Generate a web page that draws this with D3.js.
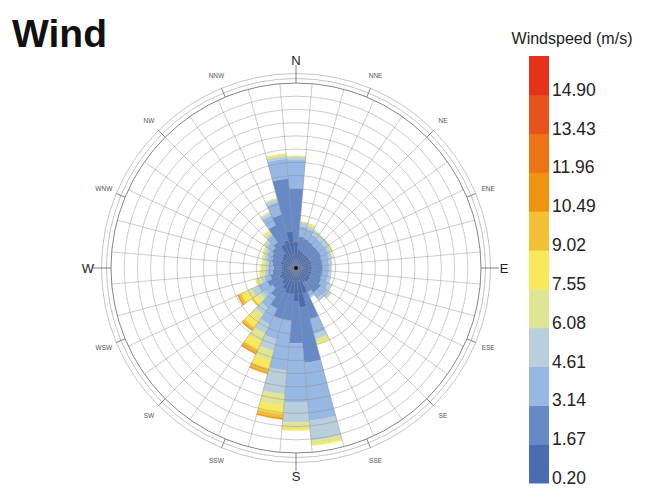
<!DOCTYPE html>
<html><head><meta charset="utf-8">
<script src="https://cdn.jsdelivr.net/npm/d3@7/dist/d3.min.js"></script>
<style>body{margin:0;background:#fff}svg{display:block}</style>
</head><body><svg id="c" width="656" height="495"></svg>
<script>
// ---- data ----
const directions = [0,10,20,30,40,50,60,70,80,90,100,110,120,130,140,150,160,170,180,190,200,210,220,230,240,250,260,270,280,290,300,310,320,330,340,350];
const compassLabels = ["N","NNE","NE","ENE","E","ESE","SE","SSE","S","SSW","SW","WSW","W","WNW","NW","NNW"];
const speedBreaks = [0.20,1.67,3.14,4.61,6.08,7.55,9.02,10.49,11.96,13.43,14.90];
const binColors = ["#4a6cb0","#6689c8","#98b8e4","#b9cfdc","#dfe593","#f9e95a","#f2bf35","#ee9410","#ec7414","#e8521c","#e5321b"];
// frequency (%) per direction for each speed bin
const bin0 = [2.0,1.4,1.3,1.2,1.2,1.2,1.2,1.2,1.2,1.2,1.2,1.2,1.2,1.3,1.3,1.2,2.0,3.0,2.5,2.0,2.0,1.8,1.5,1.3,1.4,1.2,1.1,1.1,1.1,1.2,1.2,1.3,1.4,2.0,2.2,2.8];
const bin1 = [4.0,1.0,1.0,1.0,0.9,0.9,0.9,0.8,0.8,0.8,0.8,0.8,0.9,1.0,1.0,0.8,2.0,4.2,3.2,2.0,2.0,1.6,1.2,0.9,1.0,0.8,0.7,0.6,0.7,0.7,0.8,0.9,1.0,1.6,2.0,4.0];
const bin2 = [2.2,0.8,0.7,0.6,0.6,0.6,0.6,0.6,0.5,0.5,0.5,0.5,0.6,0.6,0.5,0.4,1.2,4.4,4.5,3.8,1.6,1.3,1.0,0.7,0.8,0.5,0.4,0.4,0.3,0.4,0.4,0.5,0.6,0.8,1.0,1.5];
const bin3 = [0.2,0.3,0.3,0.35,0.35,0.35,0.2,0.25,0.25,0.2,0.2,0.25,0.25,0.35,0.2,0.1,0.4,1.5,1.5,1.8,0.9,0.8,0.6,0.4,0.5,0.3,0.2,0.2,0.2,0.2,0.2,0.2,0.2,0.2,0.2,0.2];
const bin4 = [0.1,0.05,0.15,0.05,0.05,0.05,0.15,0.05,0,0,0,0,0.05,0.05,0,0,0.3,0.3,0.5,0.9,0.8,0.7,0.6,0.4,0.4,0.3,0.3,0.3,0.2,0.15,0.15,0.1,0.2,0.1,0.1,0.15];
const bin5 = [0,0,0.05,0,0,0,0.05,0,0,0,0,0,0,0,0,0,0.1,0.1,0.1,0.6,0.6,0.6,0.6,0.3,0.5,0.1,0.1,0.1,0.1,0.05,0.05,0,0.1,0,0,0.05];
const bin6 = [0,0,0,0,0,0,0,0,0,0,0,0,0,0,0,0,0,0,0,0.3,0.3,0.3,0.2,0.1,0.2,0,0,0,0,0,0,0,0,0,0,0];
const bin7 = [0,0,0,0,0,0,0,0,0,0,0,0,0,0,0,0,0,0,0,0.1,0.1,0.1,0.1,0,0.1,0,0,0,0,0,0,0,0,0,0,0];
const bins = [bin0,bin1,bin2,bin3,bin4,bin5,bin6,bin7];
const ringCount = 14;

// ---- layout ----
const svg = d3.select("#c");
const cx = 296, cy = 268, R = 185;
const font = "'Liberation Sans', Arial, Helvetica, sans-serif";

svg.append("text").attr("x",12).attr("y",47).attr("font-family",font)
  .attr("font-weight","bold").attr("font-size",39).attr("fill","#111").text("Wind");

const g = svg.append("g").attr("transform",`translate(${cx},${cy})`);
const r = d3.scaleLinear().domain([0,ringCount]).range([0,R]);
const toRad = d => d*Math.PI/180;
const arc = d3.arc();

// stacked segments
const segs = [];
directions.forEach((dir,i)=>{
  let acc = 0;
  bins.forEach((b,k)=>{
    const v = b[i];
    if(v>0){ segs.push({dir, k, y0:acc, y1:acc+v}); acc+=v; }
  });
});
g.selectAll("path.seg").data(segs).join("path").attr("class","seg")
  .attr("d",d=>arc({innerRadius:r(d.y0),outerRadius:r(d.y1),startAngle:toRad(d.dir-5),endAngle:toRad(d.dir+5)}))
  .attr("fill",d=>binColors[d.k]).attr("stroke",d=>binColors[d.k]).attr("stroke-width",0.3);

// grid rings
g.selectAll("circle.ring").data(d3.range(1,ringCount)).join("circle")
  .attr("r",d=>r(d)).attr("fill","none").attr("stroke","#8a8a8a").attr("stroke-opacity",0.55).attr("stroke-width",0.8);
// radial lines
g.selectAll("line.spoke").data(directions).join("line")
  .attr("x1",0).attr("y1",0)
  .attr("x2",d=>R*Math.sin(toRad(d+5))).attr("y2",d=>-R*Math.cos(toRad(d+5)))
  .attr("stroke","#8a8a8a").attr("stroke-opacity",0.55).attr("stroke-width",0.8);
// outer circles
[[R,"#777",0.9],[R+4.5,"#aaa",0.7],[R+9.5,"#aaa",0.7]].forEach(([rr,c,w])=>{
  g.append("circle").attr("r",rr).attr("fill","none").attr("stroke",c).attr("stroke-width",w);
});
// compass ticks & labels
compassLabels.forEach((lab,i)=>{
  const a = toRad(i*22.5);
  const major = i%4===0;
  const r2 = major? R+18 : R+9.5;
  g.append("line").attr("x1",R*Math.sin(a)).attr("y1",-R*Math.cos(a))
    .attr("x2",r2*Math.sin(a)).attr("y2",-r2*Math.cos(a))
    .attr("stroke","#666").attr("stroke-width",0.8);
  const lr = 208;
  g.append("text").attr("x",lr*Math.sin(a)).attr("y",-lr*Math.cos(a))
    .attr("text-anchor","middle").attr("dominant-baseline","central")
    .attr("font-family",font).attr("font-size",major?13:6.5)
    .attr("fill",major?"#222":"#555").text(lab);
});
g.append("circle").attr("r",2).attr("fill","#111");

// ---- legend ----
const lx = 529, lw = 20, ltop = 56, lbot = 483;
const ls = d3.scaleLinear().domain([0, speedBreaks.length]).range([lbot, ltop]);
const lg = svg.append("g");
lg.selectAll("rect").data(binColors).join("rect")
  .attr("x",lx).attr("width",lw)
  .attr("y",(d,i)=>ls(i+1)).attr("height",(d,i)=>ls(i)-ls(i+1)+0.5)
  .attr("fill",d=>d);
lg.selectAll("text.tk").data(speedBreaks).join("text").attr("class","tk")
  .attr("x",lx+lw+3).attr("y",(d,i)=>ls(i)+1)
  .attr("font-family",font).attr("font-size",17.5).attr("fill","#222")
  .text(d=>d.toFixed(2));
svg.append("text").attr("x",572).attr("y",44).attr("text-anchor","middle")
  .attr("font-family",font).attr("font-size",16).attr("fill","#222").text("Windspeed (m/s)");
</script></body></html>
